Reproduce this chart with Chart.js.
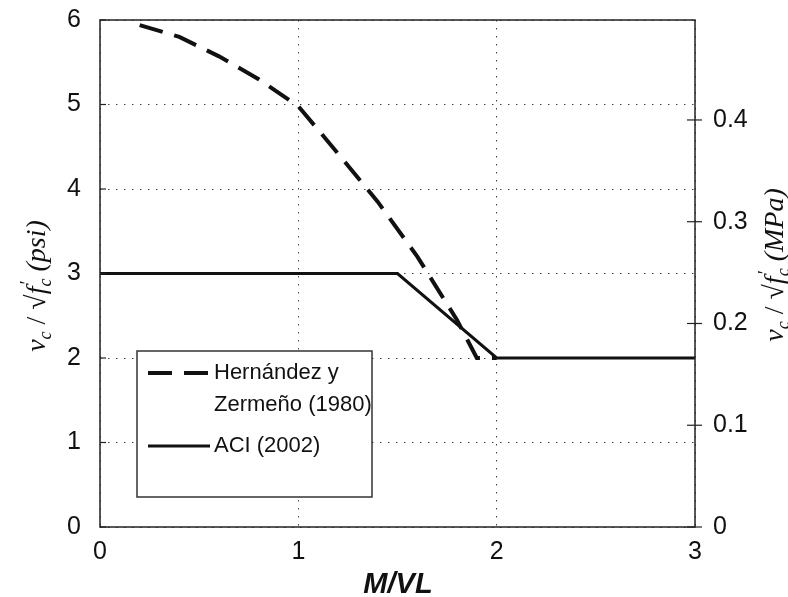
<!DOCTYPE html>
<html>
<head>
<meta charset="utf-8">
<script src="https://cdn.jsdelivr.net/npm/chart.js@4/dist/chart.umd.min.js"></script>
<style>
  html, body { margin:0; padding:0; background:#fff; }
  #wrap { width:788px; height:597px; position:relative; }
</style>
</head>
<body>
<div id="wrap"><canvas id="chart" width="788" height="597"></canvas></div>
<script>
// Hernández y Zermeño (1980) - dashed curve
const hzX = [0.2, 0.4, 0.6, 0.8, 1.0, 1.2, 1.4, 1.6, 1.8, 1.9, 2.0];
const hzY = [5.94, 5.8, 5.57, 5.3, 4.98, 4.42, 3.85, 3.2, 2.45, 2.0, 2.0];
// ACI (2002) - solid line
const aciX = [0, 1.5, 2.0, 3.0];
const aciY = [3, 3, 2, 2];

const legendLines = [['Hernández y', 'Zermeño (1980)'], ['ACI (2002)']];
const xTicks = [0, 1, 2, 3];
const yTicks = [0, 1, 2, 3, 4, 5, 6];
const mpaTicks = [0, 0.1, 0.2, 0.3, 0.4];
const psiToMpa = 0.08304; // sqrt(psi) -> sqrt(MPa)

const tickFont = { family: '"Liberation Sans", Arial, sans-serif', size: 25 };
const dotted = { color: '#444', lineWidth: 1, drawTicks: false };

function pts(xs, ys){ return xs.map((x, i) => ({ x: x, y: ys[i] })); }

// axis titles like  v_c / sqrt(f'_c) (psi)
function drawTitle(ctx, cx, cy, unit){
  const big = 'italic 28px "Liberation Serif", serif';
  const sm = 'italic 18px "Liberation Serif", serif';
  const reg = '28px "Liberation Serif", serif';
  const parts = [
    { t:'v', f:big }, { t:'c', f:sm, dy:6 }, { t:' / ', f:reg },
    { t:'\u221A', f:reg }, { t:'f', f:big },
    { t:'c', f:sm, dy:6, prime:true }, { t:' (' + unit + ')', f:big }
  ];
  ctx.save();
  let total = 0;
  parts.forEach(p => { ctx.font = p.f; p.w = ctx.measureText(p.t).width; total += p.w; });
  ctx.translate(cx, cy);
  ctx.rotate(-Math.PI / 2);
  ctx.fillStyle = '#111';
  ctx.textBaseline = 'alphabetic';
  let x = -total / 2;
  const base = 9;
  parts.forEach(p => {
    ctx.font = p.f;
    ctx.fillText(p.t, x, base + (p.dy || 0));
    if (p.prime) { ctx.fillText('\u2032', x + 1, base - 12); }
    x += p.w;
  });
  ctx.restore();
}

const extras = {
  id: 'extras',
  afterDraw(chart){
    const ctx = chart.ctx, a = chart.chartArea;
    const y2 = chart.scales.y2, y = chart.scales.y;
    ctx.save();
    // plot frame
    ctx.strokeStyle = '#222';
    ctx.lineWidth = 1.5;
    ctx.strokeRect(a.left, a.top, a.right - a.left, a.bottom - a.top);
    // right axis ticks crossing the axis
    ctx.lineWidth = 1.2;
    mpaTicks.forEach(v => {
      const py = y2.getPixelForValue(v);
      ctx.beginPath(); ctx.moveTo(a.right - 8, py); ctx.lineTo(a.right + 7, py); ctx.stroke();
    });
    // small inner ticks on left axis
    yTicks.forEach(v => {
      const py = y.getPixelForValue(v);
      ctx.beginPath(); ctx.moveTo(a.left, py); ctx.lineTo(a.left + 6, py); ctx.stroke();
    });

    // legend box
    const lx = 137, ly = 351, lw = 235, lh = 146;
    ctx.fillStyle = '#fff';
    ctx.fillRect(lx, ly, lw, lh);
    ctx.strokeStyle = '#333';
    ctx.lineWidth = 1.5;
    ctx.strokeRect(lx, ly, lw, lh);
    ctx.font = '22px "Liberation Sans", Arial, sans-serif';
    ctx.fillStyle = '#111';
    ctx.textBaseline = 'middle';
    const rows = [373, 446];
    chart.data.datasets.forEach((ds, i) => {
      const ry = rows[i];
      ctx.strokeStyle = '#111';
      ctx.lineWidth = ds.borderWidth;
      ctx.setLineDash(ds.borderDash || []);
      ctx.beginPath(); ctx.moveTo(148, ry); ctx.lineTo(210, ry); ctx.stroke();
      ctx.setLineDash([]);
      legendLines[i].forEach((ln, j) => ctx.fillText(ln, 214, ry + j * 32));
    });

    // axis titles
    ctx.font = 'bold italic 29px "Liberation Sans", Arial, sans-serif';
    ctx.textAlign = 'center';
    ctx.fillText('M/VL', 398, 585);
    ctx.textAlign = 'left';
    drawTitle(ctx, 36, 286, 'psi');
    drawTitle(ctx, 774, 265, 'MPa');
    ctx.restore();
  }
};

function fitY(w){
  return s => { s.width = w; s.paddingTop = 0; s.paddingBottom = 0; };
}

new Chart(document.getElementById('chart'), {
  type: 'line',
  data: {
    datasets: [
      { label: legendLines[0].join(' '), data: pts(hzX, hzY), borderColor: '#111',
        borderWidth: 4, borderDash: [24, 12], pointRadius: 0, tension: 0, fill: false },
      { label: legendLines[1].join(' '), data: pts(aciX, aciY), borderColor: '#111',
        borderWidth: 3, pointRadius: 0, tension: 0, fill: false }
    ]
  },
  options: {
    responsive: false,
    animation: false,
    layout: { padding: { top: 20 } },
    plugins: { legend: { display: false }, tooltip: { enabled: false } },
    scales: {
      x: {
        type: 'linear', min: 0, max: 3,
        afterFit: s => { s.height = 70; s.paddingLeft = 0; s.paddingRight = 0; },
        afterBuildTicks: s => { s.ticks = xTicks.map(v => ({ value: v })); },
        ticks: { font: tickFont, color: '#111', padding: 10 },
        grid: dotted,
        border: { display: false, dash: [1.5, 6.5] }
      },
      y: {
        min: 0, max: 6,
        afterFit: fitY(100),
        afterBuildTicks: s => { s.ticks = yTicks.map(v => ({ value: v })); },
        ticks: { font: tickFont, color: '#111', padding: 19 },
        grid: dotted,
        border: { display: false, dash: [1.5, 6.5] }
      },
      y2: {
        position: 'right', min: 0, max: 6 * psiToMpa,
        afterFit: fitY(93),
        afterBuildTicks: s => { s.ticks = mpaTicks.map(v => ({ value: v })); },
        ticks: { font: tickFont, color: '#111', padding: 18,
                 callback: v => v === 0 ? '0' : v.toFixed(1) },
        grid: { drawOnChartArea: false, drawTicks: false },
        border: { display: false }
      }
    }
  },
  plugins: [extras]
});
</script>
</body>
</html>
